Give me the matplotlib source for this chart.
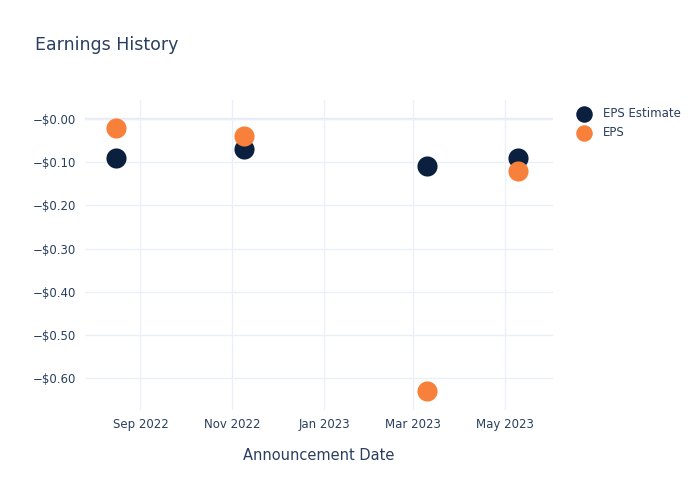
import matplotlib
matplotlib.use("Agg")
import matplotlib.pyplot as plt
import matplotlib.dates as mdates
from matplotlib.ticker import FuncFormatter
import numpy as np

dates = np.array(['2022-08-16', '2022-11-09', '2023-03-10', '2023-05-10'], dtype='datetime64[D]')
eps_estimate = [-0.09, -0.07, -0.11, -0.09]
eps = [-0.02, -0.04, -0.63, -0.12]

navy = '#0b1f3f'
orange = '#f7813a'
txt = '#2a3f5f'
grid = '#ebf0f8'

fig = plt.figure(figsize=(7, 5), dpi=100)
ax = fig.add_axes([0.121, 0.18, 0.669, 0.62])

x = dates.astype('datetime64[ms]').astype(object)
ax.scatter(x, eps_estimate, s=210, color=navy, label='EPS Estimate', zorder=3, linewidths=0)
ax.scatter(x, eps, s=210, color=orange, label='EPS', zorder=4, linewidths=0)

ax.set_xlim(np.datetime64('2022-07-26').astype(object), np.datetime64('2023-06-02').astype(object))
ax.set_ylim(-0.674, 0.044)

ax.xaxis.set_major_locator(mdates.MonthLocator(bymonth=[1, 3, 5, 7, 9, 11]))
ax.xaxis.set_major_formatter(mdates.DateFormatter('%b %Y'))
ax.set_yticks([0, -0.1, -0.2, -0.3, -0.4, -0.5, -0.6])
ax.yaxis.set_major_formatter(FuncFormatter(lambda v, p: '\u2212$%.2f' % abs(v)))

ax.grid(True, color=grid, linewidth=1, zorder=0)
ax.axhline(0, color='#e3e8f4', linewidth=1.6, zorder=1)
for s in ax.spines.values():
    s.set_visible(False)
ax.tick_params(length=0, labelsize=8.5, labelcolor=txt, pad=6)

ax.set_xlabel('Announcement Date', fontsize=10.5, color=txt, labelpad=12)
fig.text(0.05, 0.91, 'Earnings History', fontsize=12.5, color=txt, ha='left', va='center')

ax.legend(loc='upper left', bbox_to_anchor=(1.018, 1.012), frameon=False, fontsize=8.5,
          labelcolor=txt, markerscale=0.82, handletextpad=0.6, labelspacing=0.5)

fig.savefig('out.png', dpi=100, facecolor='white')
